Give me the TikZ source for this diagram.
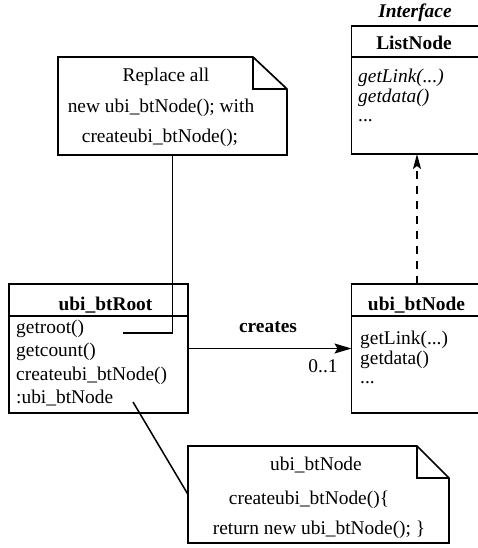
\documentclass[tikz,border=0pt]{standalone}
\usepackage{fontspec}
\setmainfont{Liberation Serif}
\usetikzlibrary{arrows.meta}
\newcommand\umlsize{\fontsize{19.4}{22}\selectfont}
\begin{document}
\begin{tikzpicture}[x=1pt,y=-1pt,
  classbox/.style={draw, line width=1.7pt, anchor=north west, inner sep=0pt, outer sep=0pt},
  notearea/.style={anchor=north west, inner sep=0pt, outer sep=0pt},
  noteline/.style={line width=1.7pt, line join=miter},
  sepline/.style={line width=1.7pt},
  item/.style={inner sep=0pt, anchor=base west, font=\umlsize},
  ctext/.style={inner sep=0pt, anchor=base, font=\umlsize},
  title/.style={inner sep=0pt, anchor=base, font=\umlsize\bfseries},
  link/.style={line width=1.5pt},
]
\useasboundingbox (0,0) rectangle (478,548);
\fill[white] (0,0) rectangle (478,548);

% ---- interface ListNode ----
\node[title, font=\umlsize\bfseries\itshape] (iface) at (415,18) {Interface};
\node[classbox, minimum width=131pt, minimum height=128pt] (listnode) at (351.5,26) {};
\coordinate (listsep) at (351.5,57);
\draw[sepline] (listsep) -- (listsep -| listnode.east);
\node[title] (listtitle) at (414,50) {ListNode};
\node[item, font=\umlsize\itshape] (listm1) at (358,83) {getLink(...)};
\node[item, font=\umlsize\itshape] (listm2) at (358,103) {getdata()};
\node[item] (listm3) at (358,122) {...};

% ---- class ubi_btRoot ----
\node[classbox, minimum width=179pt, minimum height=129pt] (root) at (9,284) {};
\coordinate (rootsep) at (9,316);
\draw[sepline] (rootsep) -- (rootsep -| root.east);
\node[title] (roottitle) at (105.5,310) {ubi\_btRoot};
\node[item] (rootm1) at (16,333) {getroot()};
\node[item] (rootm2) at (16,356) {getcount()};
\node[item] (rootm3) at (16,380) {createubi\_btNode()};
\node[item] (rootm4) at (16,403) {:ubi\_btNode};

% ---- class ubi_btNode ----
\node[classbox, minimum width=131pt, minimum height=129pt] (btnode) at (351.5,284) {};
\coordinate (nodesep) at (351.5,316);
\draw[sepline] (nodesep) -- (nodesep -| btnode.east);
\node[title] (nodetitle) at (416.5,310) {ubi\_btNode};
\node[item] (nodem1) at (360,344) {getLink(...)};
\node[item] (nodem2) at (360,364) {getdata()};
\node[item] (nodem3) at (360,383) {...};

% ---- note: replace all ----
\node[notearea, minimum width=229pt, minimum height=98pt] (note1) at (58,57) {};
\draw[noteline] (note1.south west) -- (note1.north west)
  -- ([xshift=-34pt]note1.north east) -- ([yshift=-32pt]note1.north east)
  -- (note1.south east) -- cycle;
\draw[noteline] ([xshift=-34pt]note1.north east) |- ([yshift=-32pt]note1.north east);
\node[ctext] (note1a) at (166,82) {Replace all};
\node[ctext] (note1b) at (161,113) {new ubi\_btNode(); with};
\node[ctext] (note1c) at (160,143) {createubi\_btNode();};

% ---- note: factory method ----
\node[notearea, minimum width=261pt, minimum height=97pt] (note2) at (188,446) {};
\draw[noteline] (note2.south west) -- (note2.north west)
  -- ([xshift=-32pt]note2.north east) -- ([yshift=-32pt]note2.north east)
  -- (note2.south east) -- cycle;
\draw[noteline] ([xshift=-32pt]note2.north east) |- ([yshift=-32pt]note2.north east);
\node[ctext] (note2a) at (316,470) {ubi\_btNode};
\node[ctext] (note2b) at (309,504) {createubi\_btNode()\{};
\node[ctext] (note2c) at (319,534) {return new ubi\_btNode(); \}};

% ---- connectors ----
\coordinate (hook) at (123,333);
\draw[link] (note1.south) |- (hook);
\coordinate (anchorpt) at (133,402);
\draw[link] (anchorpt) -- (note2.west);
\draw[link, -{Stealth[length=17pt, width=10pt, inset=3pt]}] (root.east) -- (btnode.west);
\node[title] (creates) at (268,332) {creates};
\node[ctext] (mult) at (323,372) {0..1};
\draw[link, dash pattern=on 8pt off 7pt, -{Stealth[length=15pt, width=8pt, inset=3pt]}]
  (btnode.north) -- (listnode.south);
\end{tikzpicture}
\end{document}
